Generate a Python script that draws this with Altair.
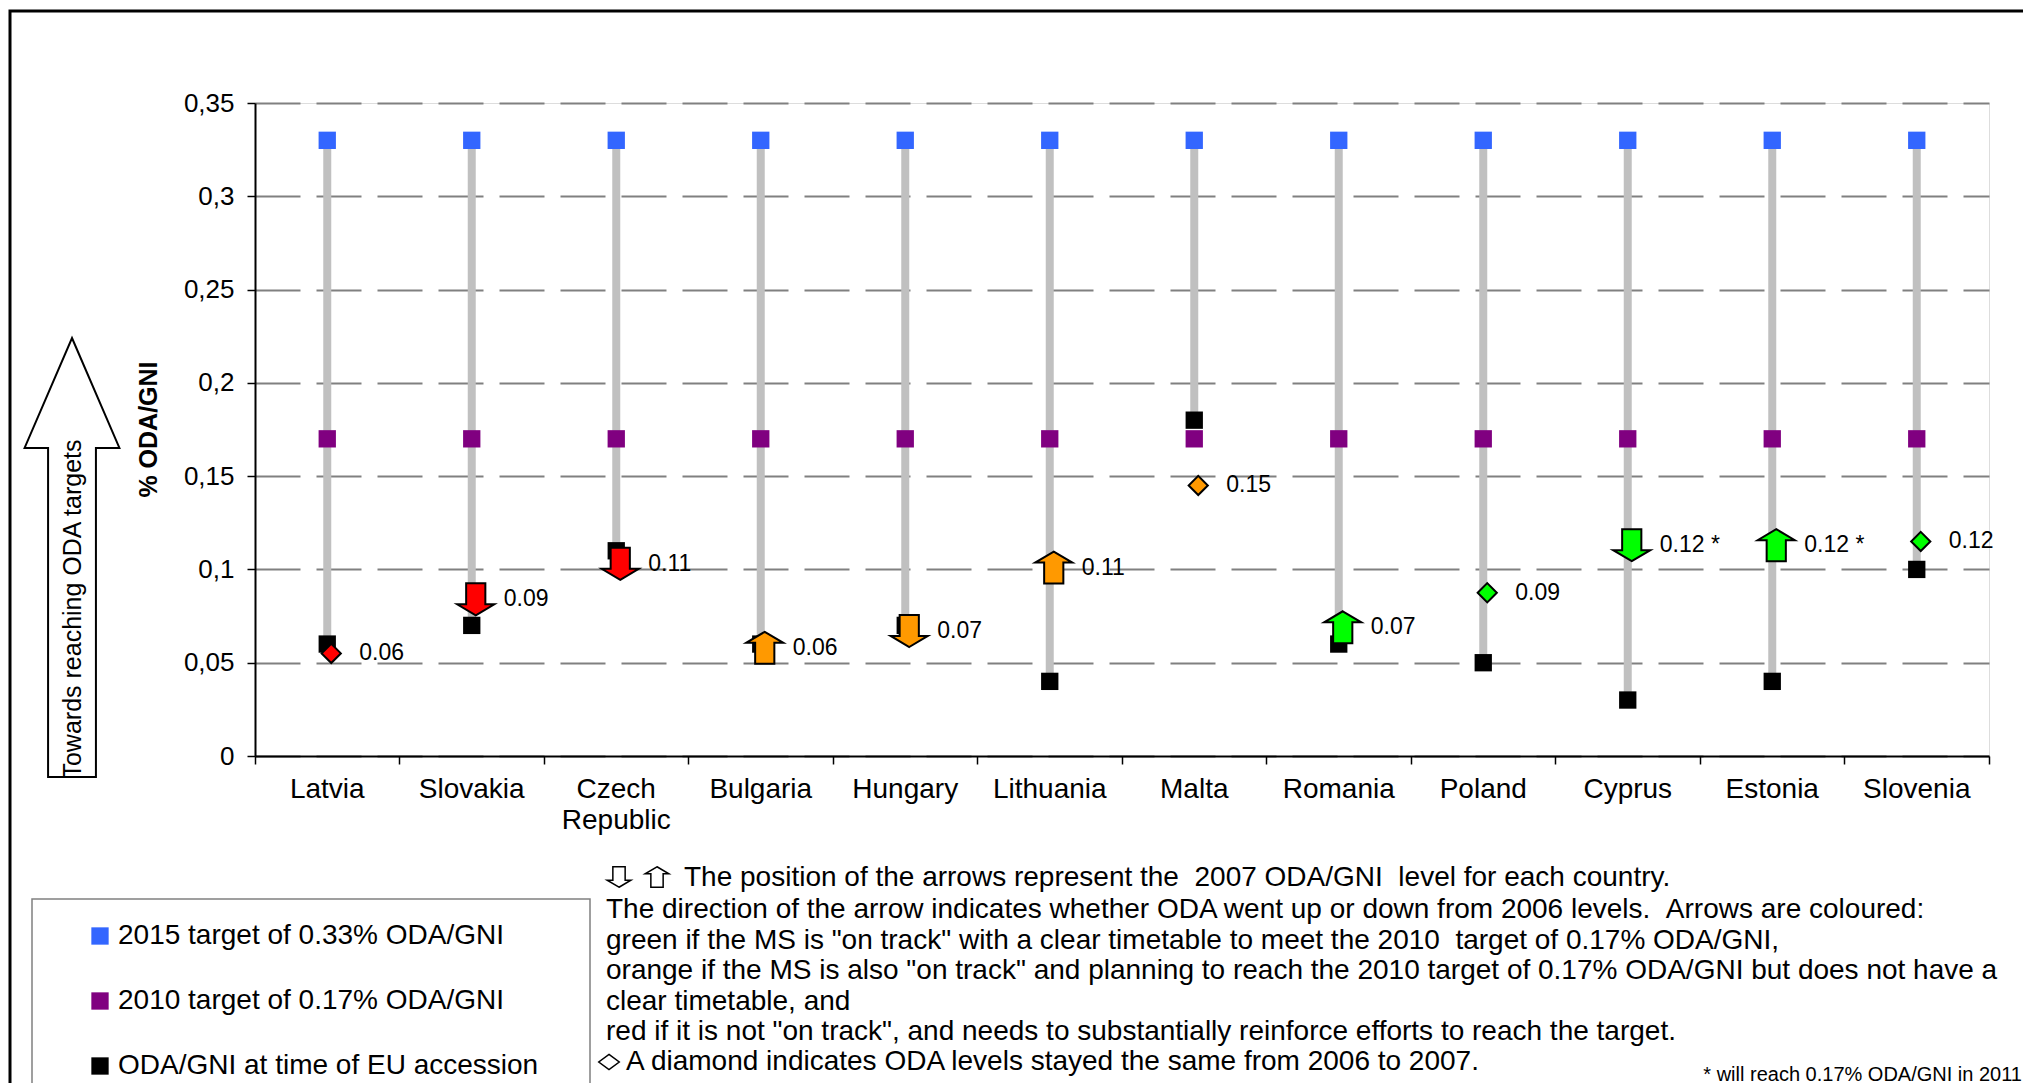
import altair as alt
import pandas as pd

# ---------------- data ----------------
countries = ["Latvia", "Slovakia", "Czech Republic", "Bulgaria", "Hungary", "Lithuania",
             "Malta", "Romania", "Poland", "Cyprus", "Estonia", "Slovenia"]
target_2015 = [0.33, 0.33, 0.33, 0.33, 0.33, 0.33, 0.33, 0.33, 0.33, 0.33, 0.33, 0.33]
target_2010 = [0.17, 0.17, 0.17, 0.17, 0.17, 0.17, 0.17, 0.17, 0.17, 0.17, 0.17, 0.17]
accession = [0.06, 0.07, 0.11, 0.06, 0.07, 0.04, 0.18, 0.06, 0.05, 0.03, 0.04, 0.10]
oda_2007 = [0.055, 0.084, 0.103, 0.058, 0.067, 0.101, 0.145, 0.069, 0.0875, 0.113, 0.113, 0.115]
oda_2007_labels = ["0.06", "0.09", "0.11", "0.06", "0.07", "0.11", "0.15", "0.07", "0.09",
                   "0.12 *", "0.12 *", "0.12"]
change_from_2006 = ["same", "down", "down", "up", "down", "up", "same", "up", "same",
                    "down", "up", "same"]
track_status = ["red", "red", "red", "orange", "orange", "orange", "orange", "green",
                "green", "green", "green", "green"]

series_names = ["2015 target of 0.33% ODA/GNI", "2010 target of 0.17% ODA/GNI",
                "ODA/GNI at time of EU accession"]
series_colors = ["#3366FF", "#800080", "#000000"]
status_domain = ["green", "orange", "red"]
status_colors = ["#00FF00", "#FF9900", "#FF0000"]
y_ticks = [0, 0.05, 0.1, 0.15, 0.2, 0.25, 0.3, 0.35]

y_title = "% ODA/GNI"
side_arrow_text = "Towards reaching ODA targets"
NB = "\u00a0"
note_first = "The position of the arrows represent the " + NB + "2007 ODA/GNI " + NB + "level for each country."
note_lines = [
    "The direction of the arrow indicates whether ODA went up or down from 2006 levels. " + NB + "Arrows are coloured:",
    "green if the MS is \"on track\" with a clear timetable to meet the 2010 " + NB + "target of 0.17% ODA/GNI,",
    "orange if the MS is also \"on track\" and planning to reach the 2010 target of 0.17% ODA/GNI but does not have a",
    "clear timetable, and",
    "red if it is not \"on track\", and needs to substantially reinforce efforts to reach the target.",
]
note_last = "A diamond indicates ODA levels stayed the same from 2006 to 2007."
footnote = "* will reach 0.17% ODA/GNI in 2011"

# ---------------- tables ----------------
df = pd.DataFrame({
    "country": countries, "t2015": target_2015, "t2010": target_2010,
    "accession": accession, "oda2007": oda_2007, "label": oda_2007_labels,
    "change": change_from_2006, "status": track_status,
})
long_rows = []
for i, c in enumerate(countries):
    long_rows.append({"country": c, "series": series_names[0], "value": target_2015[i]})
    long_rows.append({"country": c, "series": series_names[1], "value": target_2010[i]})
    long_rows.append({"country": c, "series": series_names[2], "value": accession[i]})
df_long = pd.DataFrame(long_rows)
one = pd.DataFrame({"k": [0]})

# ---------------- geometry ----------------
W, H = 1734, 653
PL, PT = 247, 95
TOTAL_W, TOTAL_H = 2015, 1075
OX, OY = PL + 8, PT + 8  # plot origin on the page


def px(x):
    return x - OX


def py(y):
    return y - OY


FONT = "Liberation Sans"

UP = "M0,-1L1.16,-0.31L0.6,-0.31L0.6,1L-0.6,1L-0.6,-0.31L-1.16,-0.31Z"
DOWN = "M0,1L1.16,0.31L0.6,0.31L0.6,-1L-0.6,-1L-0.6,0.31L-1.16,0.31Z"
DIAM = "M0,-0.6L0.6,0L0,0.6L-0.6,0Z"
BIG_UP = "M0,-1L0.216,-0.499L0.109,-0.499L0.109,1L-0.109,1L-0.109,-0.499L-0.216,-0.499Z"
FLAT_DIAM = "M0,-0.75L1,0L0,0.75L-1,0Z"

x_enc = alt.X(
    "country:N", sort=countries,
    scale=alt.Scale(type="band", paddingInner=0, paddingOuter=0),
    axis=alt.Axis(
        title=None, labelAngle=0, labelFont=FONT, labelFontSize=28, labelColor="black",
        labelPadding=11, labelLineHeight=31,
        labelExpr="datum.value == 'Czech Republic' ? ['Czech', 'Republic'] : datum.value",
        tickSize=8, tickColor="black", tickWidth=1.5, bandPosition=1, tickExtra=True,
        domainColor="black", domainWidth=2, grid=False, labelLimit=300,
    ),
)
y_scale = alt.Scale(domain=[0, 0.35], nice=False, zero=True)
y_axis = alt.Axis(
    values=y_ticks, labelExpr="replace(format(datum.value, '.2~f'), '.', ',')",
    labelFont=FONT, labelFontSize=26, labelColor="black", labelPadding=13,
    tickSize=8, tickColor="black", tickWidth=1.5, domainColor="black", domainWidth=2,
    grid=True, gridDash=[45, 16], gridColor="#808080", gridWidth=2,
    title=y_title, titleFont=FONT, titleFontSize=25, titleFontWeight="bold",
    titleColor="black", titleAngle=270, titleX=px(148), titleY=py(429),
    titleAlign="center", titleBaseline="middle",
)

frame = alt.Chart(one).mark_rect(fillOpacity=0, stroke="black", strokeWidth=3).encode(
    x=alt.value(px(10)), x2=alt.value(px(2200)), y=alt.value(py(11)), y2=alt.value(py(1300)))

bars = alt.Chart(df).mark_rule(color="#C0C0C0", strokeWidth=8).encode(
    x=x_enc, y=alt.Y("t2015:Q", scale=y_scale, axis=y_axis), y2="accession:Q")

squares = alt.Chart(df_long).mark_point(shape="square", filled=True, size=300, opacity=1).encode(
    x=alt.X("country:N", sort=countries),
    y="value:Q",
    color=alt.Color(
        "series:N", scale=alt.Scale(domain=series_names, range=series_colors),
        legend=alt.Legend(
            title=None, orient="none", legendX=px(86), legendY=py(922), padding=0,
            symbolType="square", symbolSize=300, symbolStrokeWidth=0, symbolOpacity=1,
            labelFont=FONT, labelFontSize=28, labelColor="black", labelOffset=4,
            labelLimit=700, rowPadding=37,
        ),
    ),
)

arrows = alt.Chart(df).mark_point(filled=True, stroke="black", strokeWidth=2, size=1024,
                                  opacity=1, xOffset=4).encode(
    x=alt.X("country:N", sort=countries),
    y="oda2007:Q",
    shape=alt.Shape("change:N", scale=alt.Scale(domain=["up", "down", "same"],
                                                range=[UP, DOWN, DIAM]), legend=None),
    fill=alt.Fill("status:N", scale=alt.Scale(domain=status_domain, range=status_colors),
                  legend=None),
)

labels = alt.Chart(df).mark_text(align="left", baseline="middle", dx=32, font=FONT,
                                 fontSize=23, color="black").encode(
    x=alt.X("country:N", sort=countries), y="oda2007:Q", text="label:N")

big_arrow = alt.Chart(one).mark_point(shape=BIG_UP, size=439 * 439, filled=True, fill="white",
                                      stroke="black", strokeWidth=2, opacity=1).encode(
    x=alt.value(px(72)), y=alt.value(py(557.5)))
big_arrow_text = alt.Chart(one).mark_text(angle=270, align="center", baseline="middle",
                                          font=FONT, fontSize=25, color="black").encode(
    x=alt.value(px(73)), y=alt.value(py(609)), text=alt.value(side_arrow_text))

legend_box = alt.Chart(one).mark_rect(fillOpacity=0, stroke="#808080", strokeWidth=1.5).encode(
    x=alt.value(px(32)), x2=alt.value(px(590)), y=alt.value(py(899)), y2=alt.value(py(1300)))

icon_style = dict(filled=True, fill="white", stroke="black", strokeWidth=1.5, opacity=1, size=420)
icon_down = alt.Chart(one).mark_point(shape=DOWN, **icon_style).encode(
    x=alt.value(px(619)), y=alt.value(py(877)))
icon_up = alt.Chart(one).mark_point(shape=UP, **icon_style).encode(
    x=alt.value(px(657)), y=alt.value(py(877)))
icon_diam = alt.Chart(one).mark_point(shape=FLAT_DIAM, **icon_style).encode(
    x=alt.value(px(609)), y=alt.value(py(1062)))

txt = dict(font=FONT, fontSize=28, color="black", align="left", baseline="middle")
note1 = alt.Chart(one).mark_text(**txt).encode(
    x=alt.value(px(684)), y=alt.value(py(878)), text=alt.value(note_first))
notes = alt.Chart(one).mark_text(lineHeight=30.5, **txt).encode(
    x=alt.value(px(606)), y=alt.value(py(910)), text=alt.value(note_lines))
note7 = alt.Chart(one).mark_text(**txt).encode(
    x=alt.value(px(626)), y=alt.value(py(1062)), text=alt.value(note_last))
foot = alt.Chart(one).mark_text(font=FONT, fontSize=20, color="black", align="right",
                                baseline="middle").encode(
    x=alt.value(px(2022)), y=alt.value(py(1075)), text=alt.value(footnote))

chart = alt.layer(
    frame, bars, squares, arrows, labels, big_arrow, big_arrow_text, legend_box,
    icon_down, icon_up, icon_diam, note1, notes, note7, foot,
).resolve_scale(color="independent").properties(
    width=W, height=H,
    autosize=alt.AutoSizeParams(type="none"),
    padding={"left": PL, "top": PT, "right": TOTAL_W - PL - W, "bottom": TOTAL_H - PT - H},
).configure_view(stroke="#808080", strokeWidth=2).configure(font=FONT)

chart.save("out.html", embed_options={"renderer": "svg", "actions": False})
